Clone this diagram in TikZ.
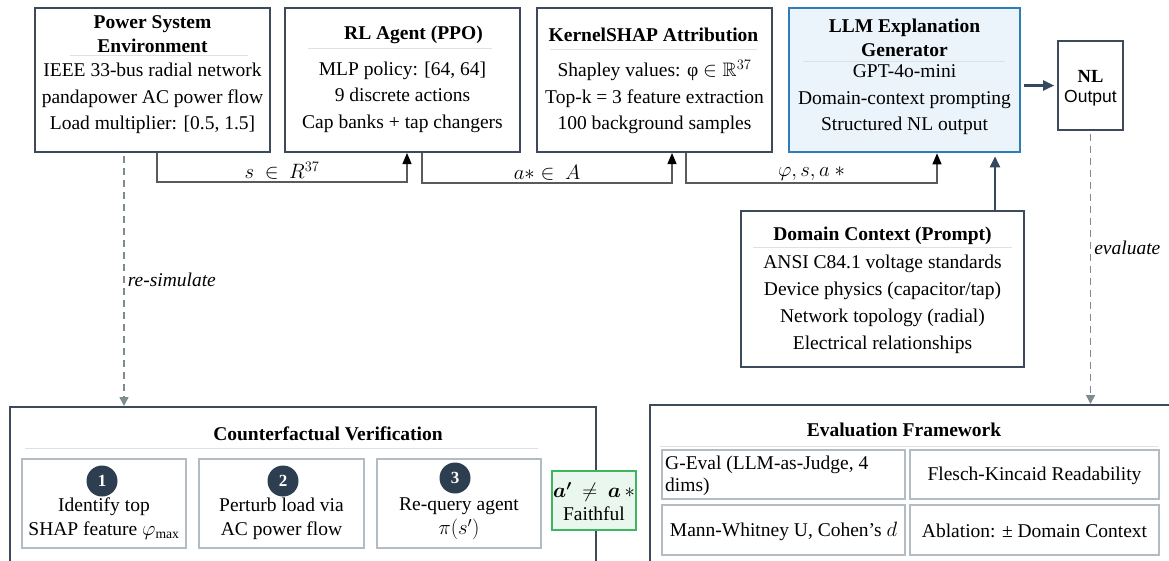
\documentclass[tikz,border=0pt]{standalone}
\usepackage{fontspec}
\usepackage{amssymb}
\usepackage{bm}
\setmainfont{Liberation Serif}
\setsansfont{Liberation Sans}
\usetikzlibrary{arrows.meta,calc}

\definecolor{boxline}{HTML}{3D4A59}
\definecolor{sepgray}{HTML}{DDE1E5}
\definecolor{subline}{HTML}{B3BBC3}
\definecolor{llmblue}{HTML}{2E7DB8}
\definecolor{llmfill}{HTML}{EBF3FB}
\definecolor{okgreen}{HTML}{3EB55F}
\definecolor{okfill}{HTML}{E9F7EE}
\definecolor{stepnavy}{HTML}{2C3E50}
\definecolor{dashgray}{HTML}{7F8C8D}
\definecolor{linkgray}{HTML}{5A5A5A}
\definecolor{darklink}{HTML}{34495E}

\tikzset{
  txt/.style={font=\fontsize{19.5}{26.5}\selectfont, align=center, inner sep=0pt},
  ttl/.style={font=\fontsize{19.5}{24}\selectfont\bfseries, align=center, inner sep=0pt},
  mainbox/.style={draw=boxline, line width=2pt, fill=white, inner sep=0pt},
  llmbox/.style={draw=llmblue, line width=2.6pt, fill=llmfill, inner sep=0pt},
  okbox/.style={draw=okgreen, line width=1.6pt, fill=okfill, inner sep=0pt},
  subbox/.style={draw=subline, line width=1.5pt, fill=white, inner sep=0pt},
  sepline/.style={draw=sepgray, line width=1pt},
  stepnum/.style={circle, fill=stepnavy, text=white, minimum size=31pt, inner sep=0pt,
    font=\fontsize{17}{17}\selectfont\bfseries},
  link/.style={draw=linkgray, line width=1.2pt,
    -{Triangle[length=11pt,width=9pt,color=black]}},
  dashlink/.style={draw=dashgray, line width=1.6pt, dash pattern=on 7pt off 5pt,
    -{Triangle[length=9pt,width=9pt]}},
  boldlink/.style={draw=darklink, line width=2.4pt, -{Triangle[length=11pt,width=10pt]}},
}

\begin{document}
\begin{tikzpicture}[x=1pt, y=-1pt]
  \clip (0,0) rectangle (1169,560);

  % top row of stages
  \node[mainbox, minimum width=235pt, minimum height=144pt] (env) at (152.5,80) {};
  \node[mainbox, minimum width=235pt, minimum height=144pt] (rl) at (402.5,80) {};
  \node[mainbox, minimum width=235pt, minimum height=144pt] (shap) at (654.5,80) {};
  \node[llmbox, minimum width=231pt, minimum height=144pt] (llm) at (904.5,80) {};
  \node[mainbox, line width=1.6pt, minimum width=65pt, minimum height=89pt] (nl) at (1090.5,85.5) {};

  \node[ttl] (envT) at (152.5,34) {Power System\\Environment};
  \draw[sepline] (70,55) -- (248,55);
  \node[txt] (envB) at (152.5,98.5) {IEEE 33-bus radial network\\pandapower AC power flow\\Load multiplier: [0.5, 1.5]};

  \node[ttl] (rlT) at (413.5,35) {RL Agent (PPO)};
  \draw[sepline] (308,48) -- (492,48);
  \node[txt] (rlB) at (402.5,97) {MLP policy: [64, 64]\\9 discrete actions\\Cap banks + tap changers};

  \node[ttl] (shapT) at (653.5,35) {KernelSHAP Attribution};
  \draw[sepline] (550,49) -- (757,49);
  \node[txt] (shapB) at (654.5,97) {Shapley values: φ $\in\mathbb{R}^{37}$\\Top-k = 3 feature extraction\\100 background samples};

  \node[ttl] (llmT) at (904.5,38) {LLM Explanation\\Generator};
  \draw[sepline] (803,61) -- (1005,61);
  \node[txt] (llmB) at (904.5,100) {GPT-4o-mini\\Domain-context prompting\\Structured NL output};

  \node[ttl, font=\fontsize{18.5}{22}\selectfont\bfseries] (nlT) at (1090.5,76) {NL};
  \node[txt, font=\fontsize{17.5}{22}\selectfont\sffamily] (nlB) at (1090.5,98) {Output};

  % prompt context
  \node[mainbox, minimum width=283pt, minimum height=156pt] (dom) at (882.5,289) {};
  \node[ttl] (domT) at (882.5,236) {Domain Context (Prompt)};
  \draw[sepline] (753,247) -- (1012,247);
  \node[txt, font=\fontsize{19.5}{27}\selectfont] (domB) at (882.5,304.5) {ANSI C84.1 voltage standards\\Device physics (capacitor/tap)\\Network topology (radial)\\Electrical relationships};

  % counterfactual check
  \node[mainbox, minimum width=586pt, minimum height=183pt] (cf) at (303,498.5) {};
  \node[ttl] (cfT) at (328,434) {Counterfactual Verification};
  \draw[sepline] (25,448) -- (538,448);
  \node[subbox, minimum width=164pt, minimum height=89pt] (s1) at (104,503.5) {};
  \node[subbox, minimum width=165pt, minimum height=89pt] (s2) at (281.5,503.5) {};
  \node[subbox, minimum width=164pt, minimum height=89pt] (s3) at (459,503.5) {};
  \node[stepnum] (n1) at (102,481) {1};
  \node[stepnum] (n2) at (283,481) {2};
  \node[stepnum] (n3) at (455,478) {3};
  \node[txt, font=\fontsize{19.5}{24}\selectfont] (s1B) at (104,519) {Identify top\\SHAP feature $\varphi_{\max}$};
  \node[txt, font=\fontsize{19.5}{24}\selectfont] (s2B) at (281.5,519) {Perturb load via\\AC power flow};
  \node[txt, font=\fontsize{19.5}{24}\selectfont] (s3B) at (459,519) {Re-query agent\\$\pi(s')$};

  \node[okbox, minimum width=84pt, minimum height=59pt] (ok) at (594,500.5) {};
  \node[txt, font=\fontsize{19.5}{23}\selectfont] (okB) at (594,501.5) {$\bm{a'}\ \neq\ \bm{a}\,*$\\Faithful};

  % evaluation
  \node[mainbox, minimum width=525pt, minimum height=185pt] (eval) at (912.5,497.5) {};
  \node[ttl] (evalT) at (904,430) {Evaluation Framework};
  \draw[sepline] (660,446) -- (1158,446);
  \node[subbox, minimum width=243pt, minimum height=49pt] (e1) at (783.5,474.5) {};
  \node[subbox, minimum width=249pt, minimum height=49pt] (e2) at (1034.5,474.5) {};
  \node[subbox, minimum width=243pt, minimum height=50pt] (e3) at (783.5,530) {};
  \node[subbox, minimum width=249pt, minimum height=50pt] (e4) at (1034.5,530) {};
  \node[txt, font=\fontsize{19.5}{22}\selectfont, align=left, anchor=west] (e1B) at (665,476) {G-Eval (LLM-as-Judge, 4\\dims)};
  \node[txt] (e2B) at (1034.5,476) {Flesch-Kincaid Readability};
  \node[txt] (e3B) at (783.5,531) {Mann-Whitney U, Cohen's $d$};
  \node[txt] (e4B) at (1034.5,531) {Ablation: ± Domain Context};

  % data flow
  \draw[link] ([xshift=4.5pt]env.south) -- ++(0,29)
    -| node[pos=0.25, above=2pt, txt]{$s\ \in\ R^{37}$} ([xshift=4.5pt]rl.south);
  \draw[link] ([xshift=19.5pt]rl.south) -- ++(0,30)
    -| node[pos=0.25, above=2pt, txt]{$a*\in\ A$} ([xshift=17.5pt]shap.south);
  \draw[link] ([xshift=31.5pt]shap.south) -- ++(0,30)
    -| node[pos=0.25, above=2pt, txt]{$\varphi, s, a\ *$} ([xshift=32.5pt]llm.south);

  \draw[boldlink, shorten <=3pt, shorten >=3pt] (llm.east |- nl.west) -- (nl.west);
  \draw[boldlink, shorten >=3pt] ([xshift=112.5pt]dom.north) -- ([xshift=112.5pt]dom.north |- llm.south);

  \draw[dashlink, shorten <=3pt] ([xshift=-28.5pt]env.south) -- node[midway, right=3pt, txt, font=\fontsize{19.5}{24}\selectfont\itshape]{re-simulate} ([xshift=-28.5pt]env.south |- cf.north);
  \draw[dashlink, shorten <=3pt] (nl.south) -- node[pos=0.43, right=3pt, txt, font=\fontsize{19.5}{24}\selectfont\itshape]{evaluate} (nl.south |- eval.north);
\end{tikzpicture}
\end{document}
